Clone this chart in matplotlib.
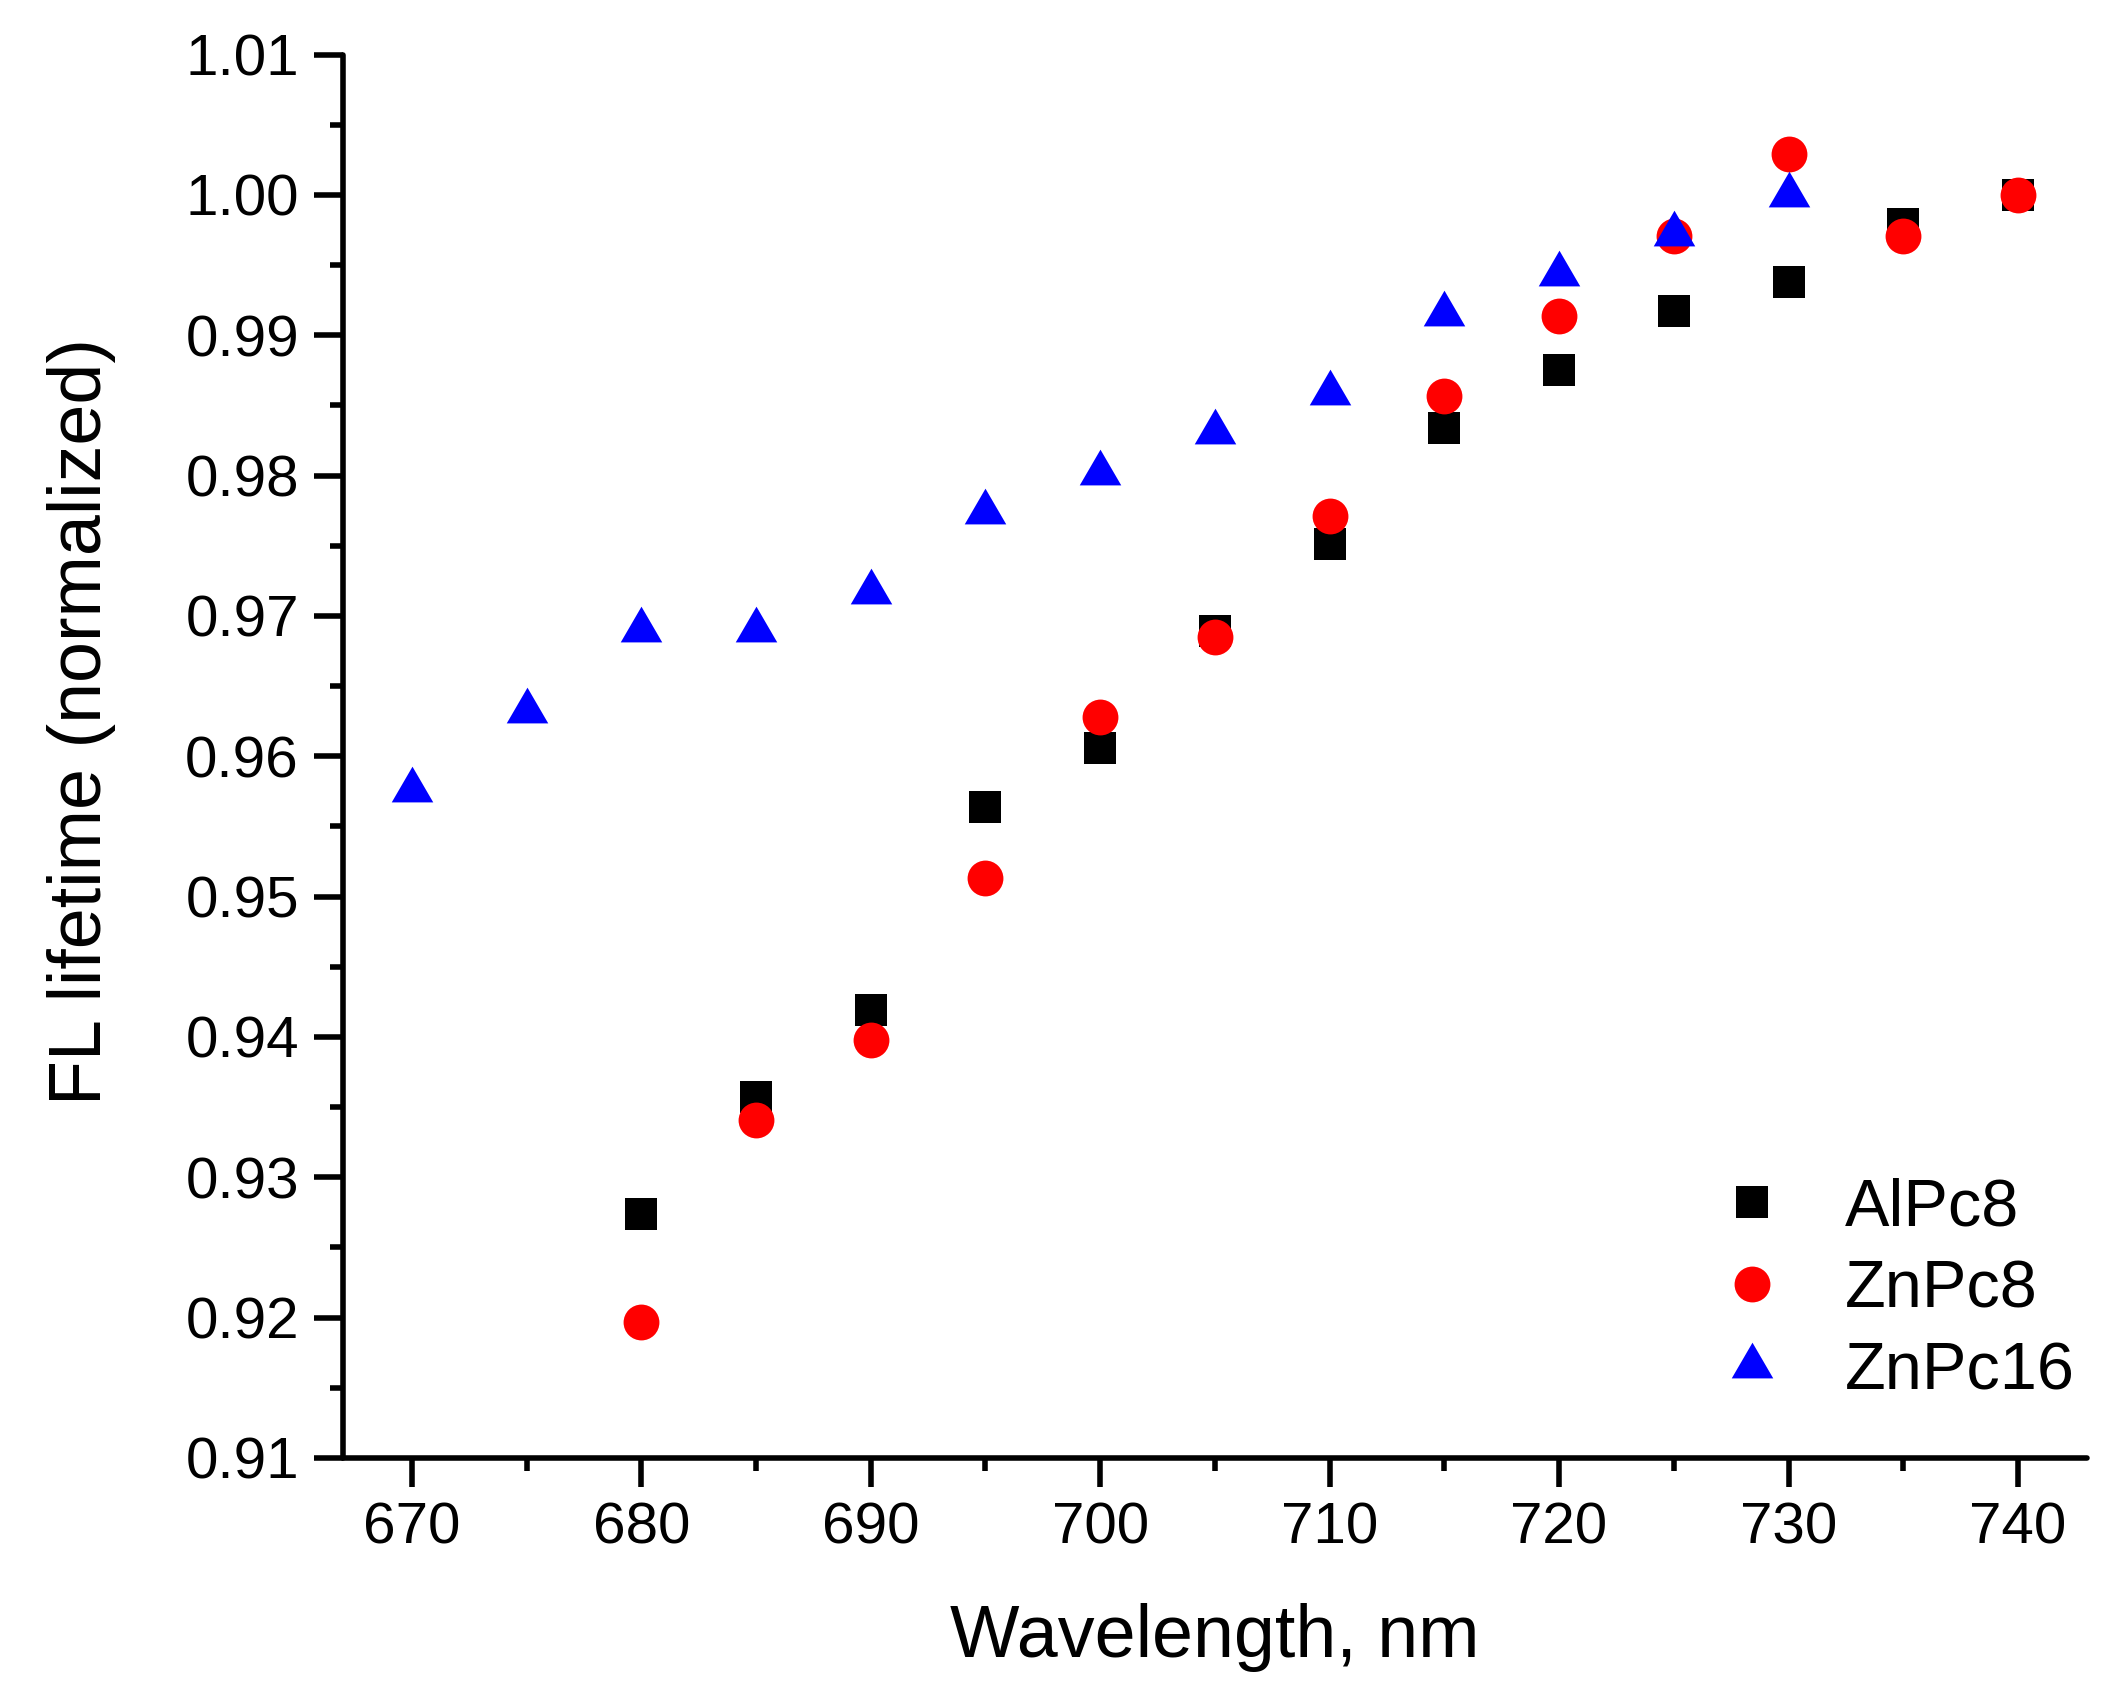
import numpy as np
import matplotlib
matplotlib.use("Agg")
from matplotlib import pyplot as plt
from matplotlib.path import Path
from matplotlib.ticker import MultipleLocator, FormatStrFormatter

plt.rcParams['font.family'] = ['Liberation Sans', 'DejaVu Sans']

# wavelengths, nm
wl_al = [680, 685, 690, 695, 700, 705, 710, 715, 720, 725, 730, 735, 740]
wl_zn8 = [680, 685, 690, 695, 700, 705, 710, 715, 720, 725, 730, 735, 740]
wl_zn16 = [670, 675, 680, 685, 690, 695, 700, 705, 710, 715, 720, 725, 730]

# normalized FL lifetime
alpc8 = [0.9274, 0.9357, 0.9419, 0.9564, 0.9606, 0.9689, 0.9751,
         0.9834, 0.9875, 0.9917, 0.9938, 0.9979, 1.0000]
znpc8 = [0.9197, 0.9341, 0.9398, 0.9513, 0.9628, 0.9685, 0.9771,
         0.9857, 0.9914, 0.9971, 1.0029, 0.9971, 1.0000]
znpc16 = [0.9576, 0.9632, 0.9690, 0.9690, 0.9717, 0.9774, 0.9802,
          0.9831, 0.9859, 0.9915, 0.9944, 0.9972, 1.0000]

# triangle with its centroid on the data point (like Origin draws it)
tri = Path([(0, 23.8), (-20.75, -11.9), (20.75, -11.9), (0, 23.8)],
           [Path.MOVETO, Path.LINETO, Path.LINETO, Path.CLOSEPOLY])

fig = plt.figure(figsize=(21.13, 17.02), dpi=100)
ax = fig.add_axes([0.1623, 0.1434, 0.8253, 0.8245])

ax.plot(wl_al, alpc8, ls='none', marker='s', ms=22.5, mew=0, color='black', label='AlPc8')
ax.plot(wl_zn8, znpc8, ls='none', marker='o', ms=25.8, mew=0, color='red', label='ZnPc8')
ax.plot(wl_zn16, znpc16, ls='none', marker=tri, ms=34.3, mew=0, color='blue', label='ZnPc16')

ax.set_xlim(667, 743)
ax.set_ylim(0.91, 1.01)

for s in ['top', 'right']:
    ax.spines[s].set_visible(False)
for s in ['left', 'bottom']:
    ax.spines[s].set_linewidth(4)
    ax.spines[s].set_capstyle('round')

ax.xaxis.set_major_locator(MultipleLocator(10))
ax.xaxis.set_minor_locator(MultipleLocator(5))
ax.yaxis.set_major_locator(MultipleLocator(0.01))
ax.yaxis.set_minor_locator(MultipleLocator(0.005))
ax.yaxis.set_major_formatter(FormatStrFormatter('%.2f'))

ax.tick_params(which='major', direction='out', length=20.7, width=4, labelsize=42, pad=11)
ax.tick_params(which='minor', direction='out', length=9.7, width=4)

ax.set_xlabel('Wavelength, nm', fontsize=53, labelpad=34)
ax.set_ylabel('FL lifetime (normalized)', fontsize=53, labelpad=50, y=0.525)

ax.legend(loc='center left', bbox_to_anchor=(0.7975, 0.242), bbox_transform=fig.transFigure,
          frameon=False, fontsize=48, borderpad=0, labelspacing=0.30,
          handlelength=1.0, handletextpad=0.9)

fig.savefig('out.png', dpi=100)
